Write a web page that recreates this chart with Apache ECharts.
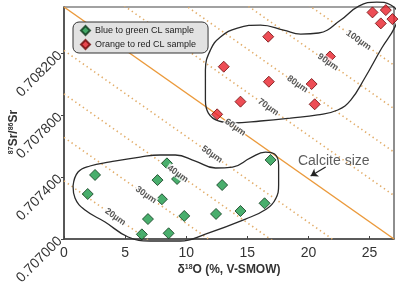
<!DOCTYPE html>
<html><head><meta charset="utf-8">
<script src="https://cdn.jsdelivr.net/npm/echarts@6/dist/echarts.min.js"></script>
<style>html,body{margin:0;padding:0;background:#fff}#c{width:400px;height:282px}</style>
</head><body><div id="c"></div>
<script>
// ---- data ----
const xMin = 0, xMax = 27, xStep = 5;
const yMin = 0.7070, yMax = 0.7085, yStep = 0.0004;
const greenName = 'Blue to green CL sample';
const redName = 'Orange to red CL sample';

const greenX  = [2.54, 1.94, 8.42, 7.65, 8.01, 6.87, 6.37, 8.56, 9.25, 16.90, 12.94, 16.41, 14.44, 12.44, 9.84];
const greenSr = [0.707414, 0.707291, 0.707489, 0.707381, 0.707257, 0.707129, 0.707030, 0.707037, 0.707388, 0.707511, 0.707349, 0.707231, 0.707181, 0.707162, 0.707149];

const redX  = [16.71, 13.07, 16.76, 20.26, 14.44, 20.51, 12.53, 21.76, 25.24, 26.33, 25.92, 26.87];
const redSr = [0.708308, 0.708114, 0.708017, 0.708002, 0.707888, 0.707871, 0.707806, 0.708180, 0.708465, 0.708480, 0.708394, 0.708422];

const greenEnvX  = [0.74, 1.15, 2.13, 3.77, 6.23, 7.88, 9.11, 10.75, 12.39, 13.79, 15.26, 16.49, 17.23, 17.56, 17.56, 17.31, 16.57, 14.85, 11.57, 9.52, 7.05, 5.25, 3.36, 1.72, 0.90, 0.74];
const greenEnvSr = [0.707343, 0.707433, 0.707472, 0.707498, 0.707530, 0.707543, 0.707543, 0.707504, 0.707459, 0.707465, 0.707524, 0.707562, 0.707549, 0.707478, 0.707349, 0.707259, 0.707194, 0.707129, 0.707032, 0.706987, 0.706987, 0.707013, 0.707110, 0.707187, 0.707265, 0.707343];

const redEnvX  = [11.57, 11.57, 11.98, 12.80, 14.19, 16.08, 17.97, 19.36, 20.84, 22.64, 24.12, 25.59, 26.74, 27.32, 27.07, 26.00, 24.61, 23.46, 22.40, 20.75, 18.54, 16.08, 13.86, 12.63, 11.81, 11.57];
const redEnvSr = [0.707898, 0.708092, 0.708222, 0.708306, 0.708364, 0.708383, 0.708351, 0.708325, 0.708332, 0.708416, 0.708506, 0.708532, 0.708513, 0.708454, 0.708370, 0.708235, 0.708041, 0.707898, 0.707834, 0.707802, 0.707782, 0.707763, 0.707750, 0.707763, 0.707814, 0.707898];

// calcite-size iso-lines: Sr at x=0 and at x=27
const sizeLabels   = ['20µm', '30µm', '40µm', '50µm', '60µm', '70µm', '80µm', '90µm', '100µm'];
const sizeSrStart  = [0.707376, 0.707657, 0.707938, 0.708219, 0.708500, 0.708781, 0.709062, 0.709343, 0.709624];
const sizeSrEnd    = [0.705876, 0.706157, 0.706438, 0.706719, 0.707000, 0.707281, 0.707562, 0.707843, 0.708124];
const sizeLabelX   = [4.2, 6.7, 9.3, 12.1, 14.0, 16.7, 19.1, 21.6, 24.1];
const solidLineLabel = '60µm';

const calciteText = 'Calcite size';
const calciteTextPos = [22.07, 0.707504];
const calciteArrow = [[21.41, 0.707465], [20.18, 0.707407]];

// ---- chart ----
const FONT = 'Liberation Sans, Arial, sans-serif';
const series = [];

sizeLabels.forEach((lab, i) => {
  const solid = lab === solidLineLabel;
  series.push({
    type: 'line', silent: true, symbol: 'none', clip: true, z: 1,
    data: [[xMin, sizeSrStart[i]], [xMax, sizeSrEnd[i]]],
    lineStyle: solid ? {color: '#eb9a3c', width: 1.5, type: 'solid'}
                     : {color: '#e2ad6a', width: 1.6, type: [1.4, 3.2]}
  });
});

series.push({
  type: 'line', silent: true, symbol: 'none', smooth: 0.45, clip: false, z: 3,
  data: greenEnvX.map((x, i) => [x, greenEnvSr[i]]),
  lineStyle: {color: '#2a2a2a', width: 1.3}
});
series.push({
  type: 'line', silent: true, symbol: 'none', smooth: 0.45, clip: false, z: 3,
  data: redEnvX.map((x, i) => [x, redEnvSr[i]]),
  lineStyle: {color: '#2a2a2a', width: 1.3}
});

series.push({
  name: greenName, type: 'scatter', symbol: 'diamond', symbolSize: 11, z: 4, clip: false,
  data: greenX.map((x, i) => [x, greenSr[i]]),
  itemStyle: {color: '#1c9a48', borderColor: '#0e3a1c', borderWidth: 1}
});
series.push({
  name: redName, type: 'scatter', symbol: 'diamond', symbolSize: 11, z: 4, clip: false,
  data: redX.map((x, i) => [x, redSr[i]]),
  itemStyle: {color: '#e8202a', borderColor: '#6e0a0a', borderWidth: 1}
});

series.push({
  type: 'scatter', silent: true, symbolSize: 1, z: 6, clip: false,
  itemStyle: {color: 'rgba(0,0,0,0)'},
  data: sizeLabels.map((lab, i) => ({
    value: [sizeLabelX[i], sizeSrStart[i] - (sizeSrStart[i] - sizeSrEnd[i]) * sizeLabelX[i] / (xMax - xMin)],
    name: lab
  })),
  label: {
    show: true, position: 'inside', formatter: p => p.name, rotate: -35,
    fontSize: 9, fontWeight: 'bold', color: '#2b2b2b', fontFamily: FONT,
    backgroundColor: '#fff', padding: [0, 1]
  }
});

series.push({
  type: 'scatter', silent: true, symbolSize: 1, z: 6, clip: false,
  itemStyle: {color: 'rgba(0,0,0,0)'},
  data: [{value: calciteTextPos, name: calciteText}],
  label: {show: true, position: 'inside', formatter: p => p.name, fontSize: 14, color: '#333', fontFamily: FONT}
});
series.push({
  type: 'lines', coordinateSystem: 'cartesian2d', silent: true, z: 6,
  symbol: ['none', 'arrow'], symbolSize: 7,
  data: [{coords: calciteArrow}],
  lineStyle: {color: '#222', width: 1.2, opacity: 1}
});

const chart = echarts.init(document.getElementById('c'), null, {renderer: 'canvas'});
chart.setOption({
  animation: false,
  backgroundColor: '#fff',
  textStyle: {fontFamily: FONT},
  grid: {left: 64, right: 6, top: 7, bottom: 43, show: true, borderColor: '#444', borderWidth: 1.2,
    containLabel: false, outerBoundsMode: 'none'},
  legend: {
    data: [greenName, redName], orient: 'vertical', left: 73, top: 22,
    itemWidth: 9, itemHeight: 9, itemGap: 3, icon: 'diamond',
    backgroundColor: '#e2e2e2', borderColor: '#333', borderWidth: 1, borderRadius: 6,
    padding: [3, 12, 3, 7],
    textStyle: {fontSize: 9, color: '#222', fontFamily: FONT}
  },
  xAxis: {
    type: 'value', min: xMin, max: xMax, interval: xStep,
    name: '{b|δ}{sup|18}{b|O (%, V-SMOW)}', nameLocation: 'middle', nameGap: 25, nameMoveOverlap: false,
    nameTextStyle: {rich: {
      b: {fontSize: 12, fontWeight: 'bold', color: '#333', fontFamily: FONT},
      sup: {fontSize: 7, fontWeight: 'bold', color: '#333', verticalAlign: 'top', fontFamily: FONT}
    }},
    axisLine: {lineStyle: {color: '#444', width: 1.5}},
    axisTick: {inside: true, length: 3, lineStyle: {color: '#444'}},
    axisLabel: {fontSize: 14, color: '#333', margin: 7, showMaxLabel: false, fontFamily: FONT},
    splitLine: {show: false}
  },
  yAxis: {
    type: 'value', min: yMin, max: yMax, interval: yStep,
    name: '{sup|87}{b|Sr/}{sup|86}{b|Sr}', nameLocation: 'middle', nameGap: 44, nameRotate: 90, nameMoveOverlap: false,
    nameTextStyle: {padding: [0, 18, 0, 0], rich: {
      b: {fontSize: 12, fontWeight: 'bold', color: '#333', fontFamily: FONT},
      sup: {fontSize: 7, fontWeight: 'bold', color: '#333', verticalAlign: 'top', fontFamily: FONT}
    }},
    axisLine: {lineStyle: {color: '#444', width: 1.5}},
    axisTick: {inside: false, length: 3, lineStyle: {color: '#444'}},
    axisLabel: {fontSize: 14, color: '#333', rotate: 45, margin: 4, showMaxLabel: false, fontFamily: FONT,
      formatter: v => v.toFixed(6)},
    splitLine: {show: false}
  },
  series: series
});
</script>
</body></html>
